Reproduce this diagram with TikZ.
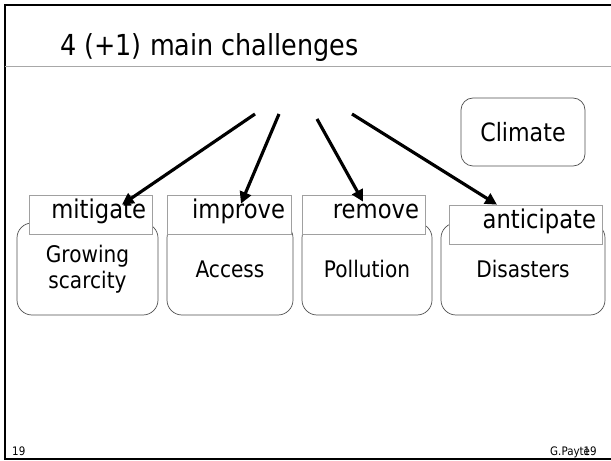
\documentclass[tikz,border=0pt]{standalone}
\usepackage{fontspec}
\setmainfont{DejaVu Sans}[FakeStretch=0.88]
\usetikzlibrary{positioning,arrows.meta,calc}
\definecolor{frameink}{HTML}{000000}
\definecolor{rulegray}{HTML}{A8A8A8}
\definecolor{boxgray}{HTML}{505050}
\definecolor{taggray}{HTML}{A0A0A0}

\begin{document}
\begin{tikzpicture}[x=0.03cm,y=-0.03cm,
  issue/.style={draw=boxgray, line width=0.6pt, rounded corners=0.45cm, minimum height=2.76cm, align=center, font=\fontsize{19.5}{22.5}\selectfont},
  tag/.style={draw=taggray, line width=0.6pt, fill=white, minimum height=1.17cm, inner xsep=0.2cm, align=right, text height=0.8em, text depth=0.1em, font=\fontsize{22}{26}\selectfont},
  push/.style={draw=black, line width=2.7pt, -{Triangle[length=10pt,width=10pt]}}]
\useasboundingbox (0,0) rectangle (611,461);
% slide frame and title
\draw[frameink, line width=2.4pt] (611,5) -- (5,5) -- (5,459) -- (611,459);
\draw[rulegray, line width=0.8pt] (5,66) -- (611,66);
\node[anchor=base west, inner sep=0pt, font=\fontsize{24.7}{29}\selectfont] (title) at (60,56) {4 (+1) main challenges};
% challenge boxes
\node[issue, minimum width=4.23cm] (scarcity) at (87.5,269) {Growing\\scarcity};
\node[issue, minimum width=3.78cm] (access) at (230,269) {Access};
\node[issue, minimum width=3.90cm] (pollution) at (367,269) {Pollution};
\node[issue, minimum width=4.92cm] (disasters) at (523,269) {Disasters};
\node[issue, rounded corners=0.36cm, minimum width=3.72cm, minimum height=2.04cm, font=\fontsize{21.5}{26}\selectfont] (climate) at (523,132) {Climate};
% action tags
\node[tag, text width=3.30cm] (mitigate) at (91,214.5) {mitigate};
\node[tag, text width=3.33cm] (improve) at (229.5,214.5) {improve};
\node[tag, text width=3.30cm] (remove) at (364,214.5) {remove};
\node[tag, text width=4.20cm] (anticipate) at (526,224.5) {anticipate};
% arrows
\coordinate (s1) at (255,114);
\coordinate (s2) at (279,114);
\coordinate (s3) at (317,119);
\coordinate (s4) at (352,114);
\draw[push] (s1) -- ($(mitigate.north west)+(93,10)$);
\draw[push] (s2) -- ($(improve.north west)+(74,9)$);
\draw[push] (s3) -- ($(remove.north west)+(61,7)$);
\draw[push] (s4) -- ($(anticipate.north west)+(48,0)$);
% footer
\node[anchor=base west, inner sep=0pt, font=\fontsize{10}{12}\selectfont] (num) at (12,456) {19};
\node[anchor=base west, inner sep=0pt, font=\fontsize{10}{12}\selectfont] (author) at (550,456) {G.Payte};
\node[anchor=base east, inner sep=0pt, font=\fontsize{10}{12}\selectfont] (numright) at (597,456) {19};
\end{tikzpicture}
\end{document}
